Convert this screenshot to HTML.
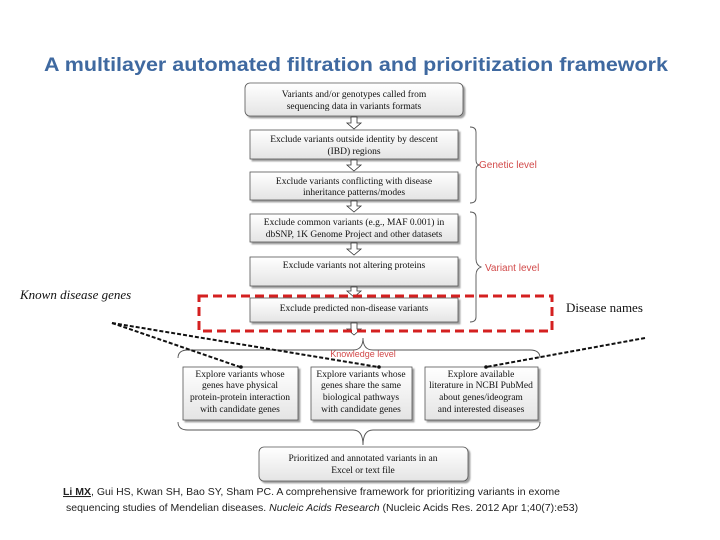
<!DOCTYPE html>
<html><head><meta charset="utf-8"><style>
html,body{margin:0;padding:0;background:#fff;}
svg{display:block;}
.b{font-family:"Liberation Serif",serif;font-size:9.5px;fill:#111;text-anchor:middle;}
</style></head><body>
<svg width="720" height="540" viewBox="0 0 720 540" xmlns="http://www.w3.org/2000/svg">
<defs>
<linearGradient id="g" x1="0" y1="0" x2="0" y2="1"><stop offset="0" stop-color="#fff"/><stop offset="1" stop-color="#e4e4e4"/></linearGradient>
<filter id="s" x="-5%" y="-5%" width="115%" height="130%"><feDropShadow dx="2" dy="2" stdDeviation="0.8" flood-color="#777" flood-opacity="0.7"/></filter>
</defs>
<text x="356" y="71" text-anchor="middle" font-family="Liberation Sans,sans-serif" font-weight="bold" font-size="19" fill="#3f69a0" textLength="624" lengthAdjust="spacingAndGlyphs">A multilayer automated filtration and prioritization framework</text>

<g stroke="#555" stroke-width="0.8" filter="url(#s)" fill="url(#g)">
<rect x="245" y="83" width="218" height="33" rx="5"/>
<rect x="250" y="130" width="208" height="29"/>
<rect x="250" y="172" width="208" height="28"/>
<rect x="250" y="214" width="208" height="28"/>
<rect x="250" y="257" width="208" height="29"/>
<rect x="250" y="298" width="208" height="24"/>
<rect x="183" y="367" width="115" height="53"/>
<rect x="311" y="367" width="101" height="53"/>
<rect x="425" y="367" width="113" height="53"/>
<rect x="259" y="447" width="209" height="34" rx="5"/>
</g>
<!-- small block arrows -->
<g fill="#fff" stroke="#333" stroke-width="0.8">
<path d="M351 117v6h-4l7 6 7-6h-4v-6z"/>
<path d="M351 160v5h-4l7 6 7-6h-4v-5z"/>
<path d="M351 201v5h-4l7 6 7-6h-4v-5z"/>
<path d="M351 243v6h-4l7 6 7-6h-4v-6z"/>
<path d="M351 287v4h-4l7 6 7-6h-4v-4z"/>
<path d="M351 323v6h-4l7 6 7-6h-4v-6z"/>
</g>
<text class="b" x="354" y="97">Variants and/or genotypes called from</text>
<text class="b" x="354" y="109">sequencing data in variants formats</text>
<text class="b" x="354" y="142">Exclude variants outside identity by descent</text>
<text class="b" x="354" y="154">(IBD) regions</text>
<text class="b" x="354" y="184">Exclude variants conflicting with disease</text>
<text class="b" x="354" y="195">inheritance patterns/modes</text>
<text class="b" x="354" y="225">Exclude common variants (e.g., MAF 0.001) in</text>
<text class="b" x="354" y="237">dbSNP, 1K Genome Project and other datasets</text>
<text class="b" x="354" y="268">Exclude variants not altering proteins</text>
<text class="b" x="354" y="311">Exclude predicted non-disease variants</text>
<g class="b">
<text class="b" x="240" y="377">Explore variants whose</text>
<text class="b" x="240" y="388">genes have physical</text>
<text class="b" x="240" y="400">protein-protein interaction</text>
<text class="b" x="240" y="412">with candidate genes</text>
<text class="b" x="361" y="377">Explore variants whose</text>
<text class="b" x="361" y="388">genes share the same</text>
<text class="b" x="361" y="400">biological pathways</text>
<text class="b" x="361" y="412">with candidate genes</text>
<text class="b" x="481" y="377">Explore available</text>
<text class="b" x="481" y="388">literature in NCBI PubMed</text>
<text class="b" x="481" y="400">about genes/ideogram</text>
<text class="b" x="481" y="412">and interested diseases</text>
</g>
<text class="b" x="363" y="461">Prioritized and annotated variants in an</text>
<text class="b" x="363" y="473">Excel or text file</text>

<!-- braces -->
<g fill="none" stroke="#555" stroke-width="0.9">
<path d="M470 127q6 0 6 5v28q0 5 4 5q-4 0-4 5v28q0 5-6 5"/>
<path d="M470 212q6 0 6 5v42q0 6 5 8q-5 2-5 8v42q0 5-6 5"/>
<path d="M178 358q0-8 10-8h165q10 0 10-12q0 12 10 12h157q10 0 10 8"/>
<path d="M178 422q0 8 10 8h165q10 0 10 15q0-15 10-15h157q10 0 10-8"/>
</g>
<text x="479" y="168" font-family="Liberation Sans,sans-serif" font-size="10" fill="#d24a4a">Genetic level</text>
<text x="485" y="271" font-family="Liberation Sans,sans-serif" font-size="10" fill="#d24a4a">Variant level</text>
<text x="363" y="357" text-anchor="middle" font-family="Liberation Sans,sans-serif" font-size="9" fill="#d24a4a">Knowledge level</text>

<rect x="199" y="296" width="353" height="35" fill="none" stroke="#d42020" stroke-width="3" stroke-dasharray="9,5"/>

<text x="20" y="299" font-family="Liberation Serif,serif" font-style="italic" font-size="13" fill="#111">Known disease genes</text>
<text x="566" y="312" font-family="Liberation Serif,serif" font-size="13" fill="#111">Disease names</text>

<g stroke="#111" stroke-width="2" stroke-dasharray="4,2" fill="none">
<line x1="112" y1="323" x2="240" y2="367"/>
<line x1="112" y1="323" x2="378" y2="367"/>
<line x1="645" y1="338" x2="486" y2="367"/>
</g>
<g fill="#111"><circle cx="241" cy="367" r="1.8"/><circle cx="379" cy="367" r="1.8"/><circle cx="486" cy="367" r="1.8"/></g>

<g font-family="Liberation Sans,sans-serif" font-size="10.5" fill="#222">
<text x="63" y="495"><tspan font-weight="bold" text-decoration="underline">Li MX</tspan>, Gui HS, Kwan SH, Bao SY, Sham PC. A comprehensive framework for prioritizing variants in exome</text>
<text x="66" y="511">sequencing studies of Mendelian diseases. <tspan font-style="italic">Nucleic Acids Research</tspan>  (Nucleic Acids Res. 2012 Apr 1;40(7):e53)</text>
</g>
</svg>
</body></html>
